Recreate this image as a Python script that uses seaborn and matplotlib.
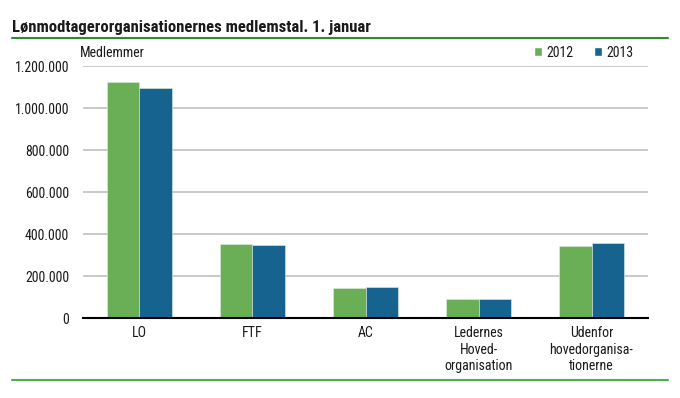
import matplotlib
matplotlib.use("Agg")
import matplotlib.pyplot as plt
import seaborn as sns
import pandas as pd
from matplotlib.lines import Line2D
from matplotlib.patches import Patch
from matplotlib.ticker import FuncFormatter

categories = ["LO", "FTF", "AC", "Ledernes\nHoved-\norganisation", "Udenfor\nhovedorganisa-\ntionerne"]
years = ["2012", "2013"]
values_2012 = [1122000, 352000, 143000, 89000, 343000]
values_2013 = [1095000, 347000, 148000, 92000, 359000]
colors = ["#6AAF55", "#176390"]

df = pd.DataFrame({
    "Organisation": categories * 2,
    "År": [years[0]] * len(categories) + [years[1]] * len(categories),
    "Medlemmer": values_2012 + values_2013,
})

sns.set_theme(style="white")
plt.rcParams["font.family"] = ["Roboto Condensed", "Liberation Sans Narrow", "Liberation Sans", "DejaVu Sans"]
plt.rcParams["text.color"] = "#1a1a1a"

fig = plt.figure(figsize=(6.8, 3.98), dpi=100)
ax = fig.add_axes([0.122, 0.201, 0.831, 0.633])

sns.barplot(data=df, x="Organisation", y="Medlemmer", hue="År", palette=colors,
            saturation=1, width=0.57, gap=0, ax=ax, legend=False,
            edgecolor="#dfeee0", linewidth=0.4)

ax.set_ylim(0, 1200000)
ax.set_yticks(range(0, 1200001, 200000))
ax.yaxis.set_major_formatter(FuncFormatter(lambda v, p: f"{int(v):,}".replace(",", ".")))
ax.grid(axis="y", color="#c0c0c0", linewidth=1.2)
ax.set_axisbelow(True)
for s in ["top", "right", "left"]:
    ax.spines[s].set_visible(False)
ax.spines["bottom"].set_color("black")
ax.spines["bottom"].set_linewidth(1.5)
ax.tick_params(axis="both", length=0, labelsize=10, colors="#1a1a1a")
ax.tick_params(axis="y", pad=10)
ax.tick_params(axis="x", pad=6)
ax.set_xlabel("")
ax.set_ylabel("")
ax.set_xlim(-0.5, 4.5)

fig.text(0.018, 0.932, "Lønmodtagerorganisationernes medlemstal. 1. januar",
         fontsize=12, fontweight="bold", ha="left", va="center")
fig.add_artist(Line2D([0.018, 0.982], [0.905, 0.905], color="#2E8B2E", linewidth=1.5))
fig.add_artist(Line2D([0.018, 0.982], [0.045, 0.045], color="#4FAE4F", linewidth=1.5))
fig.text(0.118, 0.868, "Medlemmer", fontsize=10, ha="left", va="center")

handles = [Patch(facecolor=c) for c in colors]
fig.legend(handles, years, loc="center right", bbox_to_anchor=(0.94, 0.868), ncol=2,
           frameon=False, fontsize=10, handlelength=0.6, handleheight=0.6,
           handletextpad=0.3, columnspacing=1.5, borderaxespad=0)

fig.savefig("out.png", dpi=100)
